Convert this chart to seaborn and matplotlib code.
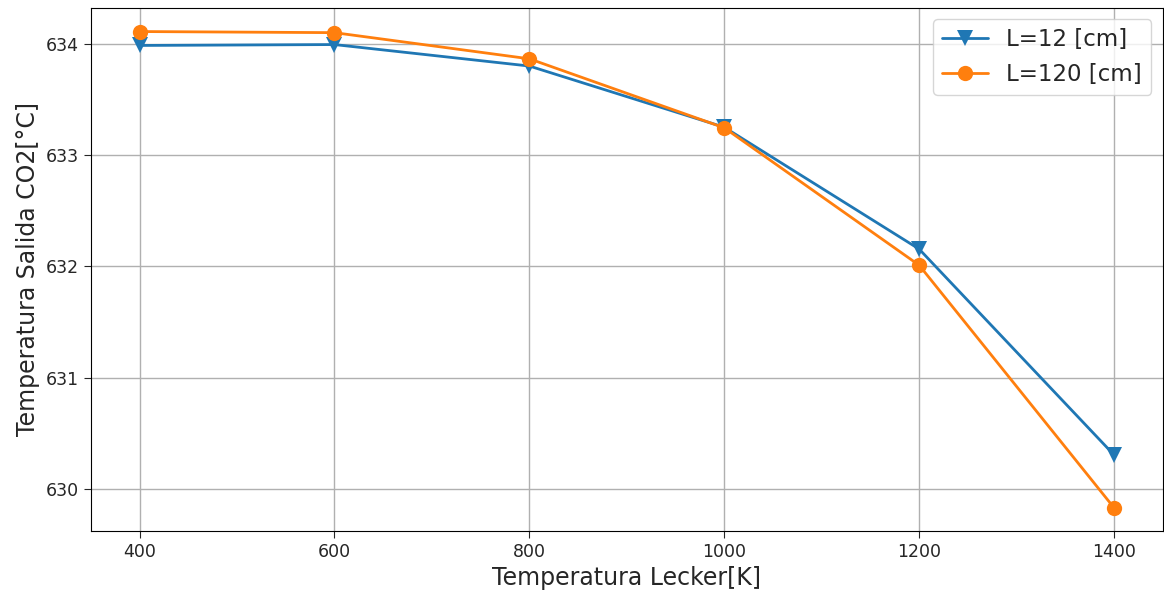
import numpy as np
import pandas as pd
import matplotlib
matplotlib.use("Agg")
import matplotlib.pyplot as plt
import seaborn as sns

# Temperatura Lecker [K]
t_lecker = [400, 600, 800, 1000, 1200, 1400]
# Temperatura salida CO2 [°C]
t_co2_l12 = [633.985, 633.993, 633.80, 633.25, 632.155, 630.305]
t_co2_l120 = [634.11, 634.10, 633.865, 633.245, 632.01, 629.83]
series_names = ["L=12 [cm]", "L=120 [cm]"]

df = pd.DataFrame({
    "T": t_lecker * 2,
    "CO2": t_co2_l12 + t_co2_l120,
    "serie": [series_names[0]] * len(t_lecker) + [series_names[1]] * len(t_lecker),
})

sns.set_style("ticks")
plt.rcParams["font.family"] = ["DejaVu Sans"]

fig, ax = plt.subplots(figsize=(11.64, 5.94), dpi=100)
sns.lineplot(
    data=df, x="T", y="CO2", hue="serie", style="serie",
    markers={series_names[0]: "v", series_names[1]: "o"}, dashes=False,
    palette=["#1f77b4", "#ff7f0e"], markersize=11, markeredgewidth=0,
    linewidth=2, ax=ax,
)
ax.grid(True, color="#b0b0b0", linewidth=1)
ax.set_xlabel("Temperatura Lecker[K]", fontsize=17)
ax.set_ylabel("Temperatura Salida CO2[°C]", fontsize=17)
ax.set_xticks(t_lecker)
ax.set_yticks([630, 631, 632, 633, 634])
ax.tick_params(labelsize=12.5, length=5)
ax.set_xlim(350, 1450)
ax.set_ylim(629.622, 634.324)
for s in ax.spines.values():
    s.set_color("black")
ax.legend(title=None, fontsize=16.5, loc="upper right", borderaxespad=0.5)
plt.subplots_adjust(left=0.078, right=0.999, top=0.987, bottom=0.106)
fig.savefig("out.png", dpi=100)
